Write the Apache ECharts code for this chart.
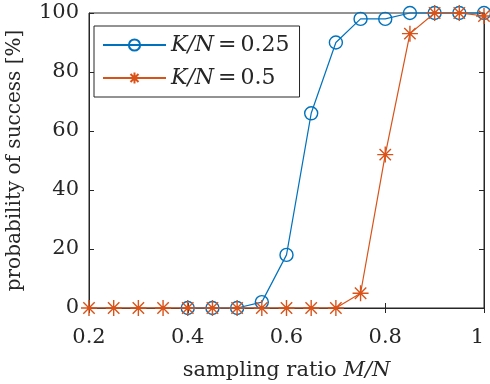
<!DOCTYPE html>
<html>
<head>
<meta charset="utf-8">
<script src="https://cdn.jsdelivr.net/npm/echarts@6/dist/echarts.min.js"></script>
<style>
html, body { margin: 0; padding: 0; background: #fff; }
#container { width: 490px; height: 384px; }
</style>
</head>
<body>
<div id="container"></div>
<script>
// sampling ratio M/N for each curve
var ratioQuarter = [0.4, 0.45, 0.5, 0.55, 0.6, 0.65, 0.7, 0.75, 0.8, 0.85, 0.9, 0.95, 1.0];
var successQuarter = [0, 0, 0, 2, 18, 66, 90, 98, 98, 100, 100, 100, 100];
var ratioHalf = [0.2, 0.25, 0.3, 0.35, 0.4, 0.45, 0.5, 0.55, 0.6, 0.65, 0.7, 0.75, 0.8, 0.85, 0.9, 0.95, 1.0];
var successHalf = [0, 0, 0, 0, 0, 0, 0, 0, 0, 0, 0, 5, 52, 93, 100, 100, 99];
var seriesNames = ['K/N=0.25', 'K/N=0.5'];

var container = document.getElementById('container');
var charts = echarts.init(container);

var FONT = 'DejaVu Serif';
var INK = '#262626';
var BLUE = '#0072BD';
var ORANGE = '#D95319';
var ASTERISK = 'path://M0,8L16,8M8,0L8,16M2.3,2.3L13.7,13.7M13.7,2.3L2.3,13.7';

function zip(xs, ys) {
    return xs.map(function (x, i) { return [x, ys[i]]; });
}

var tickStyle = { inside: true, length: 5, lineStyle: { color: INK } };

var option = {
    animation: false,
    backgroundColor: '#fff',
    grid: {
        left: 89, right: 6, top: 13, bottom: 76,
        outerBoundsMode: 'none',
        show: true, borderColor: INK, borderWidth: 1
    },
    legend: {
        orient: 'vertical',
        left: 94, top: 26,
        padding: [8, 10, 8, 8],
        itemWidth: 63, itemHeight: 14, itemGap: 11,
        backgroundColor: '#fff',
        borderColor: INK, borderWidth: 1,
        data: seriesNames,
        formatter: function (name) {
            var parts = name.split('=');
            return '{i|' + parts[0] + '}{e|=}{n|' + parts[1] + '}';
        },
        textStyle: {
            color: INK, fontFamily: FONT, fontSize: 22,
            rich: {
                i: { fontStyle: 'italic', fontFamily: FONT, fontSize: 22, color: INK },
                e: { fontFamily: FONT, fontSize: 22, color: INK, padding: [0, 4, 0, 4] },
                n: { fontFamily: FONT, fontSize: 22, color: INK }
            }
        }
    },
    xAxis: [{
        type: 'value', min: 0.2, max: 1, interval: 0.2,
        axisLine: { lineStyle: { color: INK } },
        axisTick: tickStyle,
        splitLine: { show: false },
        axisLabel: {
            color: INK, fontFamily: FONT, fontSize: 21, margin: 19,
            alignMaxLabel: 'right',
            formatter: function (v) { return v === 1 ? '1' : v.toFixed(1); }
        },
        name: '{r|sampling ratio }{i|M/N}',
        nameLocation: 'middle', nameGap: 52,
        nameTextStyle: {
            rich: {
                r: { fontFamily: FONT, fontSize: 21, color: INK },
                i: { fontFamily: FONT, fontSize: 21, color: INK, fontStyle: 'italic' }
            }
        }
    }, {
        type: 'value', position: 'top', min: 0.2, max: 1, interval: 0.2,
        axisLine: { lineStyle: { color: INK } },
        axisTick: tickStyle,
        axisLabel: { show: false },
        splitLine: { show: false }
    }],
    yAxis: [{
        type: 'value', min: 0, max: 100, interval: 20,
        axisLine: { show: true, lineStyle: { color: INK } },
        axisTick: tickStyle,
        splitLine: { show: false },
        axisLabel: { color: INK, fontFamily: FONT, fontSize: 21, margin: 10 },
        name: 'probability of success [%]',
        nameLocation: 'middle', nameGap: 64,
        nameTextStyle: { color: INK, fontFamily: FONT, fontSize: 20 }
    }, {
        type: 'value', position: 'right', min: 0, max: 100, interval: 20,
        axisLine: { show: true, lineStyle: { color: INK } },
        axisTick: tickStyle,
        axisLabel: { show: false },
        splitLine: { show: false }
    }],
    series: [{
        name: seriesNames[0],
        type: 'line',
        data: zip(ratioQuarter, successQuarter),
        symbol: 'circle', symbolSize: 13,
        lineStyle: { color: BLUE, width: 1.2 },
        itemStyle: { color: 'rgba(255,255,255,0)', borderColor: BLUE, borderWidth: 1.4 },
        clip: false
    }, {
        name: seriesNames[1],
        type: 'line',
        data: zip(ratioHalf, successHalf),
        symbol: ASTERISK, symbolSize: 16,
        lineStyle: { color: ORANGE, width: 1.2 },
        itemStyle: { color: ORANGE, borderColor: ORANGE, borderWidth: 1.4 },
        clip: false
    }]
};

charts.setOption(option, true);
</script>
</body>
</html>
